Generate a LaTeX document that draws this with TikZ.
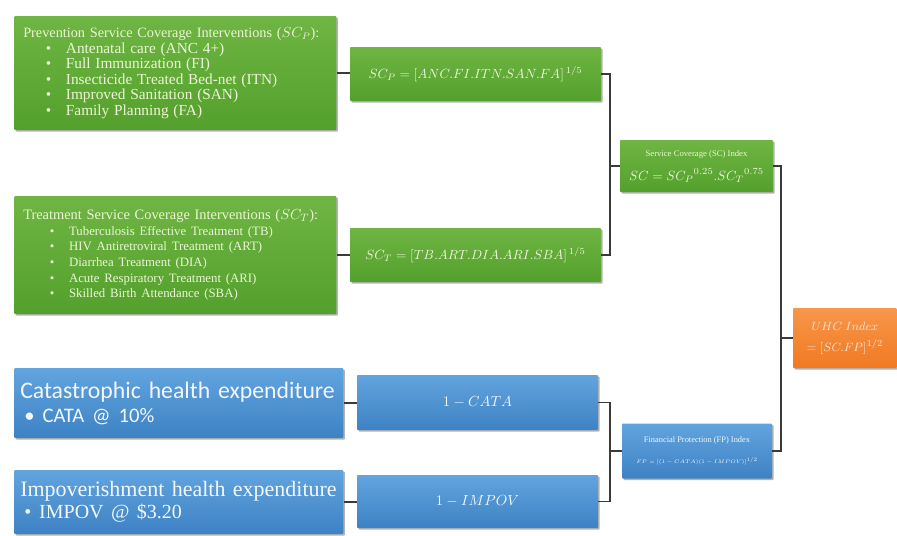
\documentclass[tikz,border=0pt]{standalone}
\usepackage{fontspec}
\setmainfont{Liberation Serif}
\newfontfamily\calibri{Carlito}
\newfontfamily\tnr{Liberation Serif}
\usepackage{amsmath}
\usepackage{tikz}
\usetikzlibrary{positioning, shadows, calc}
\definecolor{greenTop}{HTML}{6FB543}
\definecolor{greenBot}{HTML}{54A02D}
\definecolor{greenText}{HTML}{ECF6D6}
\definecolor{blueTop}{HTML}{62A4DE}
\definecolor{blueBot}{HTML}{3D82C4}
\definecolor{blueText}{HTML}{F2F7FC}
\definecolor{orangeTop}{HTML}{F8964A}
\definecolor{orangeBot}{HTML}{F07A22}
\definecolor{orangeText}{HTML}{FBE3CF}
\definecolor{lineGray}{HTML}{3A3A3A}
\newcommand{\bul}{\hspace*{17pt}\textbullet\hspace{11pt}}
\newcommand{\tbul}{\hspace*{20pt}\textbullet\hspace{11pt}}
\newcommand{\cbul}{\hspace*{3pt}\textbullet\hspace{6pt}}

\begin{document}
\begin{tikzpicture}[x=0.75pt, y=-0.75pt,
  bx/.style={rounded corners=0.6pt, inner sep=0pt, align=center,
    drop shadow={shadow xshift=1.2pt, shadow yshift=-1.2pt, opacity=0.3, fill=black}},
  gbox/.style={bx, top color=greenTop, bottom color=greenBot, text=greenText},
  bbox/.style={bx, top color=blueTop, bottom color=blueBot, text=blueText},
  obox/.style={bx, top color=orangeTop, bottom color=orangeBot, text=orangeText},
  list/.style={align=left, inner xsep=9*0.75pt, text width=304*0.75pt},
  link/.style={draw=lineGray, line width=0.8pt}
]
  \useasboundingbox (0,0) rectangle (897,536);

  % service coverage inputs
  \node[gbox, list, anchor=west, minimum height=114*0.75pt,
        font=\fontsize{10.7}{11.6}\selectfont] (prev) at (14,73)
    {Prevention Service Coverage Interventions ($SC_P$):\\
     \fontsize{11.5}{11.6}\selectfont
     \bul Antenatal care (ANC 4+)\\
     \bul Full Immunization (FI)\\
     \bul Insecticide Treated Bed-net (ITN)\\
     \bul Improved Sanitation (SAN)\\
     \bul Family Planning (FA)};
  \node[gbox, list, anchor=west, minimum height=118*0.75pt,
        font=\fontsize{10.8}{11.8}\selectfont] (treat) at (14,255)
    {Treatment Service Coverage Interventions ($SC_T$):\\
     \fontsize{9.6}{11.8}\selectfont
     \tbul Tuberculosis Effective Treatment (TB)\\
     \tbul HIV Antiretroviral Treatment (ART)\\
     \tbul Diarrhea Treatment (DIA)\\
     \tbul Acute Respiratory Treatment (ARI)\\
     \tbul Skilled Birth Attendance (SBA)};

  \node[gbox, minimum width=251*0.75pt, minimum height=54*0.75pt,
        font=\fontsize{10}{12}\selectfont] (scp) at (475.5,74)
    {$SC_P = [ANC.FI.ITN.SAN.FA]^{\,1/5}$};
  \node[gbox, minimum width=251*0.75pt, minimum height=54*0.75pt,
        font=\fontsize{10}{12}\selectfont] (sct) at (475.5,255)
    {$SC_T = [TB.ART.DIA.ARI.SBA]^{\,1/5}$};

  \node[gbox, minimum width=153*0.75pt, minimum height=52*0.75pt] (sc) at (696.5,166)
    {{\fontsize{6.5}{7.5}\selectfont Service Coverage (SC) Index}\\[6pt]
     {\fontsize{10}{11}\selectfont $SC = {SC_P}^{0.25}.{SC_T}^{0.75}$}};

  % financial protection inputs
  \node[bbox, anchor=west, align=left, minimum width=329*0.75pt, minimum height=70*0.75pt,
        inner xsep=6*0.75pt, text width=317*0.75pt,
        font=\calibri\fontsize{17.8}{18}\selectfont] (cata) at (14,403)
    {Catastrophic health expenditure\\
     \fontsize{15.5}{18}\selectfont\cbul CATA @ 10\%};
  \node[bbox, anchor=west, align=left, minimum width=329*0.75pt, minimum height=64*0.75pt,
        inner xsep=6*0.75pt, text width=317*0.75pt,
        font=\tnr\fontsize{16.5}{16.5}\selectfont] (impov) at (14,502)
    {\tnr Impoverishment health expenditure\\
     \fontsize{15}{16.5}\selectfont\cbul IMPOV @ \$3.20};

  \node[bbox, minimum width=241*0.75pt, minimum height=55*0.75pt,
        font=\fontsize{11}{14}\selectfont] (cataf) at (477.5,402.5)
    {$1 - CATA$};
  \node[bbox, minimum width=241*0.75pt, minimum height=53*0.75pt,
        font=\fontsize{11}{14}\selectfont] (impovf) at (477.5,501.5)
    {$1 - IMPOV$};

  \node[bbox, minimum width=150*0.75pt, minimum height=55*0.75pt] (fp) at (697,451)
    {{\fontsize{6.3}{7}\selectfont Financial Protection (FP) Index}\\[4pt]
     {\fontsize{5}{6}\selectfont\scalebox{0.78}{$FP = [(1-CATA)(1-IMPOV)]^{1/2}$}}};

  % overall index
  \node[obox, minimum width=104*0.75pt, minimum height=60*0.75pt,
        font=\fontsize{9.5}{11}\selectfont] (uhc) at (845,338)
    {$UHC\ Index$\\[5pt]$= [SC.FP]^{1/2}$};

  \coordinate (j1) at (610,166);
  \coordinate (j2) at (610,451);
  \coordinate (j3) at (781,338);

  \foreach \a/\b in {prev/scp, treat/sct, cata/cataf, impov/impovf}
    \draw[link] (\a.east) -- (\a.east -| \b.west);

  \draw[link] (scp.east) -| (j1) |- (sct.east);
  \draw[link] (j1) -- (sc.west);
  \draw[link] (cataf.east) -| (j2) |- (impovf.east);
  \draw[link] (j2) -- (fp.west);
  \draw[link] (sc.east) -| (j3) |- (fp.east);
  \draw[link] (j3) -- (uhc.west);
\end{tikzpicture}
\end{document}
